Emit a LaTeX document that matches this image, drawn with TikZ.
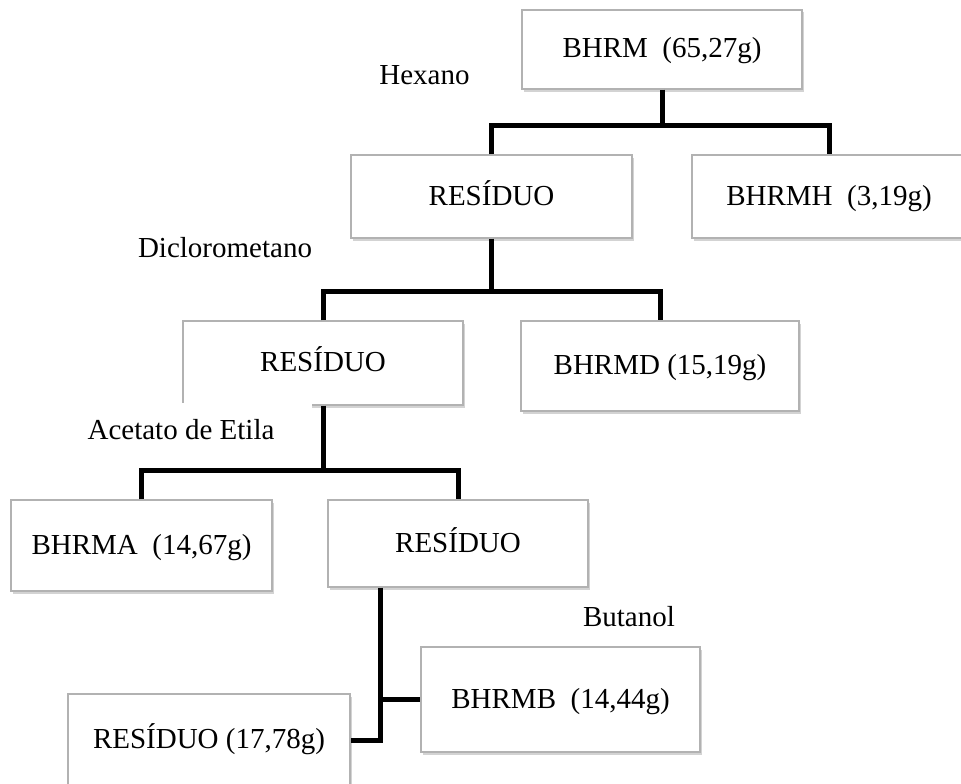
\documentclass[tikz,border=0pt]{standalone}
\usepackage{fontspec}
\setmainfont{Liberation Serif}
\usetikzlibrary{shadows}

\tikzset{
    fracbox/.style={
        draw=gray!60, line width=1.2pt, fill=white,
        drop shadow={shadow xshift=1.5pt, shadow yshift=-2.5pt, opacity=0.35},
        inner sep=0pt, text height=21pt, text depth=4pt,
        font=\fontsize{29}{33}\selectfont,
    },
    solvent/.style={fill=white, inner sep=2pt, font=\fontsize{29}{33}\selectfont},
    branch/.style={line width=5pt},
}

\begin{document}
\begin{tikzpicture}[
    x=1pt, y=-1pt,
]
    \clip (0, 0) rectangle (961, 784);

    \node[fracbox, minimum width=280pt, minimum height=79pt] (bhrm) at (662, 49.5) {BHRM\ \ (65,27g)};
    \node[fracbox, minimum width=281pt, minimum height=83pt] (res1) at (491.5, 196.5) {RESÍDUO};
    \node[fracbox, minimum width=274pt, minimum height=83pt] (bhrmh) at (829, 196.5) {BHRMH\ \ (3,19g)};
    \node[fracbox, minimum width=280pt, minimum height=84pt] (res2) at (323, 363) {RESÍDUO};
    \node[fracbox, minimum width=278pt, minimum height=90pt] (bhrmd) at (660, 366) {BHRMD (15,19g)};
    \node[fracbox, minimum width=261pt, minimum height=91pt] (bhrma) at (141.5, 545.5) {BHRMA\ \ (14,67g)};
    \node[fracbox, minimum width=260pt, minimum height=87pt] (res3) at (458, 543.5) {RESÍDUO};
    \node[fracbox, minimum width=279pt, minimum height=105pt] (bhrmb) at (560.5, 699.5) {BHRMB\ \ (14,44g)};
    \node[fracbox, minimum width=282pt, minimum height=92pt] (resf) at (209, 740) {RESÍDUO (17,78g)};

    \coordinate (j1) at (bhrm.south |- 0, 125);
    \coordinate (j2) at (res1.south |- 0, 291);
    \coordinate (j3) at (res2.south |- 0, 470);
    \coordinate (j4) at (bhrmb.west -| 380, 0);
    \coordinate (j5) at (resf.east -| j4);

    \draw[branch] (bhrm.south) -- (j1);
    \draw[branch] (res1.north) |- (j1) -| (bhrmh.north);
    \draw[branch] (res1.south) -- (j2);
    \draw[branch] (res2.north) |- (j2) -| (bhrmd.north);
    \draw[branch] (res2.south) -- (j3);
    \draw[branch] (bhrma.north) |- (j3) -| (res3.north);
    \draw[branch] (res3.south -| j4) -- (j5) -- (resf.east);
    \draw[branch] (j4) -- (bhrmb.west);

    \node[solvent] (hex) at (424.5, 75) {Hexano};
    \node[solvent] (dcm) at (225, 248) {Diclorometano};
    \node[solvent, inner xsep=38pt, inner ysep=17pt] (acet) at (181, 430) {Acetato de Etila};
    \node[solvent, inner xsep=21pt, inner ysep=15pt] (but) at (629, 617) {Butanol};
\end{tikzpicture}
\end{document}
